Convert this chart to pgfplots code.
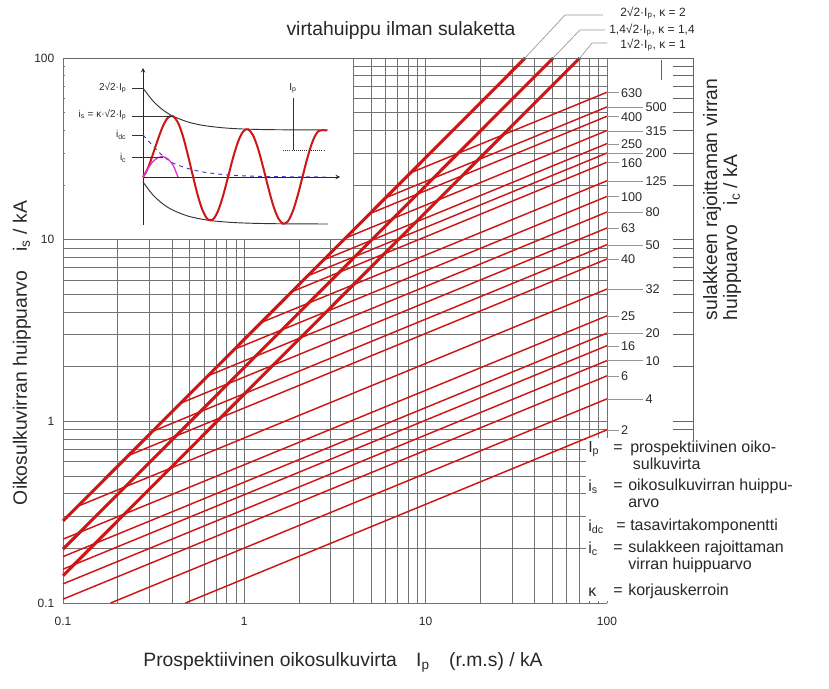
\documentclass[border=0pt]{standalone}
\usepackage{pgfplots}
\pgfplotsset{compat=1.18}
\usepackage{fontspec}
\setmainfont{Liberation Sans}
\definecolor{kred}{RGB}{205,22,22}
\definecolor{kblue}{RGB}{60,60,200}
\definecolor{kmag}{RGB}{225,50,210}
\definecolor{lgray}{RGB}{150,150,150}
\definecolor{txt}{RGB}{40,40,40}
\newcommand{\legfont}{\fontsize{12}{12.4}\selectfont}
\begin{document}
\begin{tikzpicture}
% ---------------- main log-log chart ----------------
\begin{axis}[
  name=main,
  at={(47.25pt,-452.25pt)}, anchor=south west,
  scale only axis, width=408pt, height=408.75pt,
  xmode=log, ymode=log, xmin=0.1, xmax=100, ymin=0.1, ymax=100,
  xtick={0.1,1,10,100}, xticklabels={{0.1},{1},{10},{100}},
  ytick={0.1,1,10,100}, yticklabels={{0.1},{1},{10},{100}},
  minor xtick={0.2,0.3,0.4,0.5,0.6,0.7,0.8,0.9,2,3,4,5,6,7,8,9,20,30,40,50,60,70,80,90},
  minor ytick={0.2,0.3,0.4,0.5,0.6,0.7,0.8,0.9,2,3,4,5,6,7,8,9,20,30,40,50,60,70,80,90},
  grid=both,
  major grid style={draw=black!55, line width=0.55pt},
  minor grid style={draw=black!55, line width=0.55pt},
  major tick length=0pt, minor tick length=0pt,
  axis line style={draw=none},
  tick label style={font=\fontsize{9}{10}\selectfont, text=txt},
  xticklabel style={yshift=-7pt},
  yticklabel style={xshift=-3pt},
  clip=false,
]
\fill[white] (axis cs:0.1025,10.15) rectangle (axis cs:3.95,98.5);
\fill[white] (axis cs:76.5,0.1025) rectangle (axis cs:330,0.812);
% fuse cut-off lines (rated current in A), start on the kappa=2 line
\addplot[kred, line width=1.1pt] coordinates {(8.23,23.3) (100,64.8)};   % 630
\addplot[kred, line width=1.1pt] coordinates {(6.01,17.0) (100,53.8)};   % 500
\addplot[kred, line width=1.1pt] coordinates {(4.91,13.9) (100,47.8)};   % 400
\addplot[kred, line width=1.1pt] coordinates {(3.61,10.2) (100,39.9)};   % 315
\addplot[kred, line width=1.1pt] coordinates {(2.73,7.73) (100,33.8)};   % 250
\addplot[kred, line width=1.1pt] coordinates {(2.24,6.33) (100,30.0)};   % 200
\addplot[kred, line width=1.1pt] coordinates {(1.83,5.17) (100,26.7)};   % 160
\addplot[kred, line width=1.1pt] coordinates {(1.23,3.49) (100,21.1)};   % 125
\addplot[kred, line width=1.1pt] coordinates {(0.880,2.49) (100,17.3)};  % 100
\addplot[kred, line width=1.1pt] coordinates {(0.629,1.78) (100,14.2)};  % 80
\addplot[kred, line width=1.1pt] coordinates {(0.446,1.26) (100,11.6)};  % 63
\addplot[kred, line width=1.1pt] coordinates {(0.311,0.880) (100,9.39)}; % 50
\addplot[kred, line width=1.1pt] coordinates {(0.229,0.648) (100,7.83)}; % 40
\addplot[kred, line width=1.1pt] coordinates {(0.120,0.340) (100,5.35)}; % 32
\addplot[kred, line width=1.1pt] coordinates {(0.1,0.2245) (100,3.81)};  % 25
\addplot[kred, line width=1.1pt] coordinates {(0.1,0.180) (100,3.06)};   % 20
\addplot[kred, line width=1.1pt] coordinates {(0.1,0.1535) (100,2.61)};  % 16
\addplot[kred, line width=1.1pt] coordinates {(0.1,0.1274) (100,2.16)};  % 10
\addplot[kred, line width=1.1pt] coordinates {(0.1,0.105) (100,1.78)};   % 6
\addplot[kred, line width=1.1pt] coordinates {(0.183,0.1) (100,1.33)};   % 4
\addplot[kred, line width=1.1pt] coordinates {(0.473,0.1) (100,0.898)};  % 2
% peak current without fuse
\addplot[kred, line width=2.3pt] coordinates {(0.1,0.2828) (35.36,100)};  % kappa 2
\addplot[kred, line width=2.3pt] coordinates {(0.1,0.1980) (50.5,100)};   % kappa 1.4
\addplot[kred, line width=2.3pt] coordinates {(0.1,0.1414) (70.7,100)};   % kappa 1
\end{axis}
% ---------------- right-hand scale ----------------
\begin{axis}[
  at={(47.25pt,-43.5pt)}, anchor=north west,
  scale only axis, width=472.5pt, height=286.5pt,
  xmode=log, ymode=log, xmin=0.1, xmax=298.1, ymin=0.789, ymax=100,
  axis x line*=top, axis y line*=right,
  axis line style={draw=black!60, line width=0.6pt, -},
  xtick=\empty,
  ytick={0.9,1,2,3,4,5,6,7,8,9,10,20,30,40,50,60,70,80,90},
  yticklabels={},
  minor tick length=0pt,
  tick align=inside, major tick length=15pt,
  tick style={draw=black!60, line width=0.6pt},
  clip=false,
]
\addplot[draw=none] coordinates {(1,1)};
\end{axis}
% ---------------- inset (schematic current waveform) ----------------
\begin{axis}[
  at={(47.25pt,-43.5pt)}, anchor=north west,
  scale only axis, width=216.75pt, height=136.5pt,
  xmin=-80, xmax=209, ymin=-63, ymax=119,
  hide axis, clip=false,
]
\addplot[black!85, line width=0.5pt, -stealth] coordinates {(0,-48) (0,109)};
\addplot[black!85, line width=0.5pt, -stealth] coordinates {(0,0) (197,0)};
\addplot[black!80, line width=0.7pt, smooth] coordinates {(0,89) (10,76) (20,67) (30,60.8) (45,55) (60,51.6) (80,49.2) (100,48) (130,47.3) (185,47)};
\addplot[black!80, line width=0.7pt, smooth] coordinates {(0,-5) (10,-18) (20,-27) (30,-33.2) (45,-39.1) (60,-42.4) (70,-43.9) (90,-45.5) (110,-46.3) (140,-46.8) (185,-47)};
\addplot[kblue, line width=0.7pt, dashed, smooth] coordinates {(0,42) (10,31) (20,21) (30,14) (45,8.5) (60,5) (80,2.5) (100,1.2) (130,0.4) (185,0)};
\addplot[kred, line width=1.5pt, smooth, tension=0.55] coordinates {(0,0) (5,9) (10,23) (15,37.8) (20,51) (25,59.4) (30,60.8) (35,54.3) (40,40.6) (45,21.6) (50,0.6) (55,-19.2) (60,-34.3) (65,-42.5) (70,-42.4) (75,-34) (80,-19) (85,-0.2) (90,19) (95,35.1) (100,45.3) (105,47.7) (110,41.7) (115,28.5) (120,10.4) (125,-9.5) (130,-27.7) (135,-40.7) (140,-46.6) (145,-44.1) (150,-33.7) (155,-17.4) (160,2.1) (165,21.2) (170,36.6) (175,45.5) (180,46.8) (184,46.5)};
\addplot[kmag, line width=1pt, smooth] coordinates {(0,0) (5,8.5) (10,15.5) (15,19.3) (20,20.3) (25,18) (30,12) (33,5) (35,0)};
\addplot[black!80, line width=0.5pt] coordinates {(-11,89) (0,89)};
\addplot[black!80, line width=0.5pt] coordinates {(-11,61) (30,61)};
\addplot[black!80, line width=0.5pt] coordinates {(-11,42) (0,42)};
\addplot[black!80, line width=0.5pt] coordinates {(-11,20) (20,20)};
\addplot[black!80, line width=0.5pt] coordinates {(150,79) (150,27)};
\addplot[black!80, line width=0.6pt, densely dotted] coordinates {(140,27) (182,27)};
\end{axis}
% ---------------- annotations (pixel frame) ----------------
\begin{scope}[x=0.75pt, y=-0.75pt]
\path[use as bounding box] (0,0) rectangle (829,689);
% title and axis labels
\node[font=\fontsize{14.5}{16}\selectfont, text=txt] at (401,31) {virtahuippu ilman sulaketta};
\node[font=\fontsize{14.5}{16}\selectfont, text=txt] at (343,662) {Prospektiivinen oikosulkuvirta\hspace{1em}I\textsubscript{p}\hspace{1em}(r.m.s) / kA};
\node[font=\fontsize{14.5}{16}\selectfont, text=txt, rotate=90] at (22,353) {Oikosulkuvirran huippuarvo\hspace{1em}i\textsubscript{s} / kA};
\node[font=\fontsize{14.5}{15}\selectfont, text=txt, rotate=90, anchor=west, align=left] at (722,325) {sulakkeen rajoittaman virran\\huippuarvo\hspace{1em}i\textsubscript{c} / kA};
% kappa leader lines
\draw[lgray, line width=0.5pt] (525,58) -- (565,15) -- (603,15);
\draw[lgray, line width=0.5pt] (553,58) -- (580,30) -- (605,30);
\draw[lgray, line width=0.5pt] (580,58) -- (592,43) -- (607,43);
\node[font=\fontsize{9}{10}\selectfont, text=txt] at (653,13) {2√2·I\textsubscript{p}, κ = 2};
\node[font=\fontsize{9}{10}\selectfont, text=txt] at (652,30) {1,4√2·I\textsubscript{p}, κ = 1,4};
\node[font=\fontsize{9}{10}\selectfont, text=txt] at (653,45) {1√2·I\textsubscript{p}, κ = 1};
\draw[black!60, line width=0.6pt] (661,60) -- (661,80);
% fuse rating labels, left column
\foreach \v/\yy in {630/92.7, 400/116.7, 250/144, 160/162.7, 100/196.7, 63/228.3, 40/259.3, 25/316, 16/346, 6/376, 2/430}{
  \draw[lgray, line width=0.6pt] (607,\yy) -- (619,\yy);
  \node[font=\fontsize{9.5}{10}\selectfont, text=txt, anchor=west, inner sep=1pt] at (619.5,\yy) {\v};
}
% fuse rating labels, right column
\foreach \v/\yy in {500/107.3, 315/131, 200/153.3, 125/181, 80/212.3, 50/245, 32/289.3, 20/333.3, 10/360.7, 4/399.3}{
  \draw[lgray, line width=0.6pt] (607,\yy) -- (643,\yy);
  \node[font=\fontsize{9.5}{10}\selectfont, text=txt, anchor=west, inner sep=1pt] at (644,\yy) {\v};
}
% inset labels
\node[font=\fontsize{7.5}{8}\selectfont, text=txt, anchor=east, inner sep=1pt] at (128,88) {2√2·I\textsubscript{p}};
\node[font=\fontsize{7.5}{8}\selectfont, text=txt, anchor=east, inner sep=1pt] at (128,115) {i\textsubscript{s} = κ·√2·I\textsubscript{p}};
\node[font=\fontsize{7.5}{8}\selectfont, text=txt, anchor=east, inner sep=1pt] at (128,135) {i\textsubscript{dc}};
\node[font=\fontsize{7.5}{8}\selectfont, text=txt, anchor=east, inner sep=1pt] at (128,158) {i\textsubscript{c}};
\node[font=\fontsize{7.5}{8}\selectfont, text=txt, inner sep=1pt] at (293,88) {I\textsubscript{p}};
% legend of symbols
\begin{scope}[every node/.style={font=\legfont, text=txt, inner sep=0pt}]
\node[anchor=west] at (588,449) {I\textsubscript{p}};
\node[anchor=west] at (613,449) {=};
\node[anchor=north west, align=left] at (630,441) {prospektiivinen oiko-\\\hspace*{2pt}sulkuvirta};
\node[anchor=west] at (588,487) {i\textsubscript{s}};
\node[anchor=west] at (613,487) {=};
\node[anchor=north west, align=left] at (628,479) {oikosulkuvirran huippu-\\arvo};
\node[anchor=west] at (588,527) {i\textsubscript{dc}};
\node[anchor=west] at (616,527) {=};
\node[anchor=west] at (630,526) {tasavirtakomponentti};
\node[anchor=west] at (588,549) {i\textsubscript{c}};
\node[anchor=west] at (613,549) {=};
\node[anchor=north west, align=left] at (628,541) {sulakkeen rajoittaman\\virran huippuarvo};
\node[anchor=west] at (588,592) {κ};
\node[anchor=west] at (613,592) {=};
\node[anchor=west] at (628,591) {korjauskerroin};
\end{scope}
\end{scope}
\end{tikzpicture}
\end{document}
